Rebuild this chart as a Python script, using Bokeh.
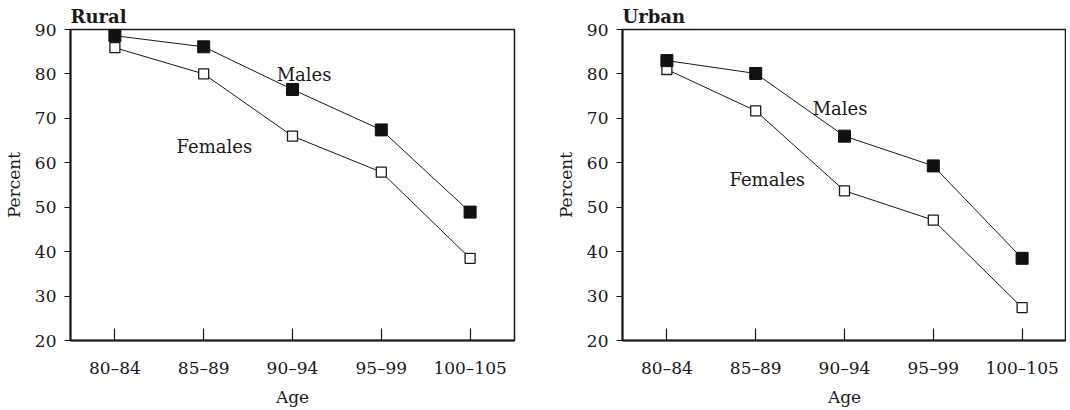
from bokeh.plotting import figure
from bokeh.layouts import row
from bokeh.models import Range1d, FixedTicker, FactorRange, Label
from bokeh.embed import file_html
from bokeh.resources import INLINE

ages = ["80–84", "85–89", "90–94", "95–99", "100–105"]
rural_males = [88.6, 86.1, 76.5, 67.4, 48.9]
rural_females = [85.9, 80.0, 66.0, 57.9, 38.5]
urban_males = [83.0, 80.1, 66.0, 59.3, 38.5]
urban_females = [81.0, 71.7, 53.7, 47.1, 27.4]
y_ticks = [20, 30, 40, 50, 60, 70, 80, 90]

FONT = "DejaVu Serif"
INK = "#1a1a1a"


def make(title, males, females, males_pos, females_pos, left, right):
    p = figure(x_range=FactorRange(*ages, range_padding=0), y_range=Range1d(20, 90),
               frame_width=444, frame_height=311, output_backend="svg",
               toolbar_location=None,
               min_border_left=left, min_border_right=right, min_border_top=29,
               min_border_bottom=60)
    p.grid.visible = False
    p.outline_line_color = INK
    p.outline_line_width = 1.5
    p.background_fill_color = "white"

    p.title.text = title
    p.title.align = "left"
    p.title.offset = 0
    p.title.standoff = 5
    p.title.text_font = FONT
    p.title.text_font_size = "18px"
    p.title.text_font_style = "bold"
    p.title.text_color = INK

    p.line(ages, females, line_color=INK, line_width=1)
    p.line(ages, males, line_color=INK, line_width=1)
    p.scatter(ages, females, marker="square", size=10, fill_color="white",
              line_color=INK, line_width=1.3)
    p.scatter(ages, males, marker="square", size=12, fill_color="#111",
              line_color="#111", line_width=1)

    yax = p.yaxis[0]
    yax.ticker = FixedTicker(ticks=y_ticks)
    yax.major_tick_out = 6
    yax.major_tick_in = 0
    yax.minor_tick_line_color = None
    yax.major_label_standoff = 8
    yax.axis_label = "Percent"
    yax.axis_label_standoff = 8

    xax = p.xaxis[0]
    xax.major_tick_in = 12
    xax.major_tick_out = 0
    xax.major_label_standoff = 17
    xax.axis_label = "Age"
    xax.axis_label_standoff = 6

    for ax in (xax, yax):
        ax.axis_line_color = INK
        ax.axis_line_width = 2
        ax.major_tick_line_color = INK
        ax.major_tick_line_width = 1.2
        ax.major_label_text_font = FONT
        ax.major_label_text_font_size = "17px"
        ax.major_label_text_color = INK
        ax.axis_label_text_font = FONT
        ax.axis_label_text_font_size = "17px"
        ax.axis_label_text_font_style = "normal"
        ax.axis_label_text_color = INK

    p.add_layout(Label(x=males_pos[0], y=males_pos[1], text="Males", text_font=FONT,
                       text_font_size="18px", text_color=INK,
                       text_baseline="alphabetic", text_align="center"))
    p.add_layout(Label(x=females_pos[0], y=females_pos[1], text="Females", text_font=FONT,
                       text_font_size="18px", text_color=INK,
                       text_baseline="alphabetic", text_align="center"))
    return p


p1 = make("Rural", rural_males, rural_females, (2.63, 79.8), (1.62, 63.7), 64, 38)
p2 = make("Urban", urban_males, urban_females, (2.45, 72.3), (1.63, 56.3), 64, 0)

layout = row(p1, p2)
open("out.html", "w").write(file_html(layout, INLINE))
